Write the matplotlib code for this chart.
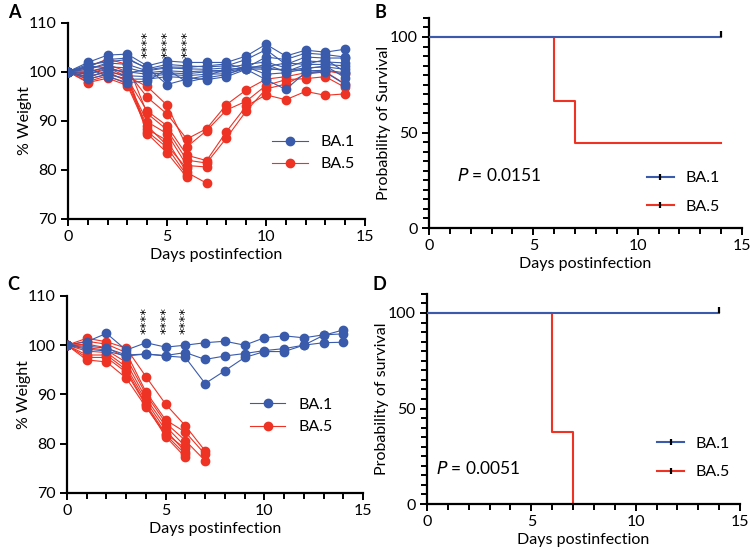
import matplotlib
matplotlib.use("Agg")
import matplotlib.pyplot as plt
from matplotlib.lines import Line2D
from matplotlib.ticker import MultipleLocator

plt.rcParams["font.family"] = ["Lato", "DejaVu Sans"]

BLUE = "#3a5bab"
RED = "#ee3224"

days = list(range(15))

# panel A: % weight, BA.1 (10 mice) and BA.5 (9 mice)
a_ba1 = [
    [100, 101.9, 103.4, 103.6, 101.2, 102.2, 101.9, 101.9, 101.9, 103.2, 105.6, 103.2, 104.4, 104.0, 104.6],
    [100, 101.0, 102.5, 102.8, 100.6, 101.5, 101.2, 101.0, 101.2, 102.5, 104.5, 101.5, 103.0, 102.8, 102.8],
    [100, 100.5, 101.8, 101.5, 100.2, 100.8, 100.6, 100.5, 100.8, 101.5, 102.0, 100.8, 102.2, 102.0, 101.8],
    [100, 100.0, 101.0, 100.8, 99.8, 100.2, 100.0, 100.2, 100.3, 101.0, 101.0, 101.8, 101.5, 101.5, 101.2],
    [100, 99.5, 100.5, 100.0, 99.5, 99.8, 99.6, 100.0, 100.0, 100.8, 100.8, 100.2, 100.8, 101.0, 100.5],
    [100, 99.0, 100.0, 99.2, 99.0, 99.5, 99.2, 99.5, 99.6, 100.6, 100.5, 100.5, 100.2, 100.3, 99.8],
    [100, 98.5, 99.5, 98.5, 98.5, 99.0, 98.8, 98.4, 99.0, 100.5, 98.4, 96.4, 99.9, 99.9, 97.4],
    [100, 101.5, 102.0, 102.5, 100.8, 97.4, 98.5, 99.2, 100.5, 100.8, 103.0, 102.5, 103.8, 103.5, 103.0],
    [100, 100.8, 99.0, 97.8, 98.1, 100.5, 97.9, 98.8, 99.4, 101.0, 99.5, 99.8, 100.6, 101.2, 98.8],
    [100, 101.2, 100.8, 99.8, 100.4, 101.0, 100.9, 101.2, 101.6, 100.6, 101.5, 100.0, 101.5, 102.5, 100.0],
]
a_ba5 = [
    [100, 100.5, 101.5, 100.0, 94.8, 91.4, 86.3, 88.4, 93.3, 96.3, 98.5, 99.0, 99.8, 100.2, 99.5],
    [100, 99.5, 100.8, 99.0, 97.0, 93.2, 84.7, 88.0, 92.2, 94.0, 97.2, 98.4, 98.6, 99.0, 96.8],
    [100, 98.5, 99.5, 98.5, 92.0, 89.0, 83.0, 81.9, 87.8, 93.0, 95.3, 94.3, 96.0, 95.2, 95.5],
    [100, 101.0, 102.6, 101.5, 91.5, 88.2, 82.0, 81.4, 86.5, 92.0, 96.5, 97.5, 99.5, 100.0, 97.5],
    [100, 99.0, 100.0, 98.0, 89.8, 87.4, 80.9, 80.6],
    [100, 97.8, 98.7, 97.2, 88.3, 86.0, 79.5, 77.3],
    [100, 98.0, 99.2, 97.5, 89.0, 85.0, 80.3],
    [100, 99.8, 101.0, 99.5, 87.8, 84.6, 78.9],
    [100, 98.8, 100.3, 98.8, 87.4, 83.5, 78.5],
]

# panel C: % weight, BA.1 (3 mice) and BA.5 (8 mice)
c_ba1 = [
    [100, 100.7, 102.4, 99.0, 100.5, 99.6, 100.0, 100.5, 100.8, 100.0, 101.5, 101.9, 101.5, 102.1, 102.3],
    [100, 99.8, 99.4, 98.0, 98.2, 97.9, 98.5, 97.1, 97.8, 98.3, 98.9, 99.3, 100.0, 100.5, 100.6],
    [100, 99.2, 98.8, 97.8, 98.2, 97.8, 97.5, 92.2, 94.8, 97.5, 98.7, 98.7, 100.0, 102.0, 103.1],
]
c_ba5 = [
    [100, 101.4, 100.7, 99.4, 93.6, 88.0, 83.6, 78.5],
    [100, 100.8, 100.2, 98.5, 90.5, 84.8, 82.3, 77.8],
    [100, 100.2, 99.5, 97.5, 90.0, 84.2, 80.6, 76.5],
    [100, 99.5, 99.0, 96.5, 89.2, 83.5, 79.4],
    [100, 98.8, 98.5, 95.6, 88.6, 82.7, 78.3],
    [100, 98.0, 98.0, 95.0, 88.0, 82.0, 79.0],
    [100, 97.5, 97.5, 94.5, 87.8, 81.4, 77.2],
    [100, 97.0, 96.6, 93.3, 87.4, 81.8, 77.8],
]
sig_days = [4, 5, 6]

# panels B and D: survival
b_t_ba1, b_s_ba1 = [0, 14], [100, 100]
b_t_ba5, b_s_ba5 = [0, 6, 7, 14], [100, 66.7, 44.4, 44.4]
d_t_ba1, d_s_ba1 = [0, 14], [100, 100]
d_t_ba5, d_s_ba5 = [0, 6, 7], [100, 37.5, 0]

W, H = 750, 548
FS = 11.5
MS = 6
fig = plt.figure(figsize=(W / 100, H / 100), dpi=100)


def px_axes(x0, x1, ytop, ybot):
    return fig.add_axes([x0 / W, 1 - ybot / H, (x1 - x0) / W, (ybot - ytop) / H])


def style(ax):
    for s in ["top", "right"]:
        ax.spines[s].set_visible(False)
    for s in ["left", "bottom"]:
        ax.spines[s].set_linewidth(1.6)
    ax.tick_params(which="both", width=1.4, labelsize=FS, direction="out", pad=3)
    ax.tick_params(which="major", length=5)
    ax.tick_params(which="minor", length=4)
    ax.set_xlim(0, 15)
    ax.xaxis.set_major_locator(MultipleLocator(5))
    ax.xaxis.set_minor_locator(MultipleLocator(1))
    ax.set_xlabel("Days postinfection", fontsize=FS, labelpad=3)


def weight_panel(ax, ba1, ba5, sig_y, leg_anchor):
    for w in ba1:
        ax.plot(days[:len(w)], w, "-o", color=BLUE, lw=0.8, ms=MS, zorder=3)
    for w in ba5:
        ax.plot(days[:len(w)], w, "-o", color=RED, lw=0.8, ms=MS, zorder=2)
    style(ax)
    ax.set_ylim(70, 110)
    ax.yaxis.set_major_locator(MultipleLocator(10))
    ax.set_ylabel("% Weight", fontsize=FS, labelpad=-2)
    for d in sig_days:
        ax.text(d, sig_y, "****", rotation=90, ha="center", va="bottom",
                fontsize=9.5, family="DejaVu Sans")
    h = [Line2D([], [], color=BLUE, marker="o", lw=0.8, ms=MS),
         Line2D([], [], color=RED, marker="o", lw=0.8, ms=MS)]
    ax.legend(h, ["BA.1", "BA.5"], frameon=False, fontsize=FS,
              loc="center left", bbox_to_anchor=leg_anchor,
              handlelength=2.2, labelspacing=0.5, handletextpad=0.8)


def survival_panel(ax, t1, s1, t5, s5, ylabel, ptxt, pxy, leg_anchor):
    ax.step(t5, s5, where="post", color=RED, lw=1.5, zorder=2)
    ax.step(t1, s1, where="post", color=BLUE, lw=1.5, zorder=3)
    ax.plot(t1[-1], s1[-1] + 1.5, marker="|", color="black", ms=5, mew=1.6, zorder=4)
    style(ax)
    ax.set_ylim(0, 110)
    ax.set_yticks([0, 50, 100])
    ax.yaxis.set_minor_locator(MultipleLocator(5))
    ax.set_ylabel(ylabel, fontsize=FS, labelpad=-1)
    ax.text(pxy[0], pxy[1], r"$\mathit{P}$ = " + ptxt, fontsize=12.5,
            transform=ax.transAxes, va="center")
    h = [Line2D([], [], color=BLUE, lw=1.5, marker="|", mec="black", ms=5, mew=1.6),
         Line2D([], [], color=RED, lw=1.5, marker="|", mec="black", ms=5, mew=1.6)]
    ax.legend(h, ["BA.1", "BA.5"], frameon=False, fontsize=FS,
              loc="center left", bbox_to_anchor=leg_anchor,
              handlelength=1.7, labelspacing=0.9, handletextpad=0.7)


axA = px_axes(68, 365, 22.7, 219)
weight_panel(axA, a_ba1, a_ba5, 102.8, (0.64, 0.335))
axC = px_axes(67, 363, 296, 492.7)
weight_panel(axC, c_ba1, c_ba5, 102.2, (0.57, 0.39))

axB = px_axes(429, 742, 17.9, 228)
survival_panel(axB, b_t_ba1, b_s_ba1, b_t_ba5, b_s_ba5,
               "Probability of Survival", "0.0151", (0.09, 0.25), (0.65, 0.17))
axD = px_axes(427, 740, 293.9, 504)
survival_panel(axD, d_t_ba1, d_s_ba1, d_t_ba5, d_s_ba5,
               "Probability of survival", "0.0051", (0.03, 0.17), (0.69, 0.22))

for lab, x, y in [("A", 8, 12), ("B", 375, 12), ("C", 7, 285), ("D", 372, 285)]:
    fig.text(x / W, 1 - y / H, lab, fontsize=13, fontweight="bold",
             ha="left", va="center")

fig.savefig("out.png", dpi=100)
